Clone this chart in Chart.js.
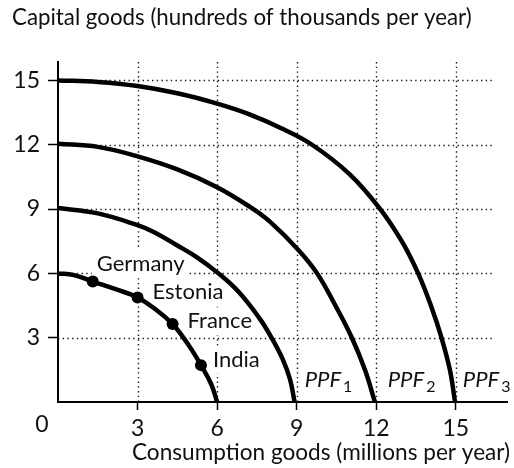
<!DOCTYPE html>
<html>
<head>
<meta charset="utf-8">
<script src="https://cdn.jsdelivr.net/npm/chart.js@4.4.1/dist/chart.umd.min.js"></script>
<style>
  html, body { margin: 0; padding: 0; background: #fff; }
  #wrap { width: 514px; height: 468px; }
</style>
</head>
<body>
<div id="wrap"><canvas id="chart" width="514" height="468"></canvas></div>
<script>
'use strict';

// ── data ────────────────────────────────────────────────────────────────────
const X_TICKS = [3, 6, 9, 12, 15];
const Y_TICKS = [3, 6, 9, 12, 15];
const X_MAX = 16.93;
const Y_MAX = 15.86;

const PPF_SMALL = [[0,6],[0.6,5.92],[1.31,5.62],[2.2,5.25],[3.0,4.88],[3.7,4.3],[4.32,3.64],[4.7,3.05],[5.05,2.42],[5.39,1.72],[5.77,0.85],[6,0]];
const PPF_1 = [[0,9.05],[1.5,8.8],[3,8.25],[3.63,7.92],[4.5,7.3],[5.2,6.78],[6.05,6.0],[6.8,5.15],[7.6,3.9],[8.05,3.0],[8.47,2.0],[8.75,1.05],[8.92,0]];
const PPF_2 = [[0,12.05],[1.5,11.9],[3,11.46],[4.5,10.85],[6,10.02],[7.24,9.1],[8.0,8.4],[9.08,7.07],[9.77,6.0],[10.46,4.5],[11.08,3.0],[11.58,1.48],[11.95,0]];
const PPF_3 = [[0,15],[1.5,14.93],[3,14.74],[4.5,14.4],[6,13.92],[7.22,13.42],[8.44,12.76],[9.58,12.0],[11.0,10.62],[12.15,9.0],[12.96,7.5],[13.58,6.0],[14.08,4.43],[14.46,3.0],[14.78,1.48],[14.97,0]];

const COUNTRIES = ['Germany', 'Estonia', 'France', 'India'];
const COUNTRY_X = [1.31, 3.0, 4.32, 5.39];
const COUNTRY_Y = [5.62, 4.88, 3.64, 1.72];

const PPF_NAMES = ['1', '2', '3'];
const PPF_INTERCEPTS = [9, 12, 15];

const TITLE_Y = 'Capital goods (hundreds of thousands per year)';
const TITLE_X = 'Consumption goods (millions per year)';

// ── estilo ──────────────────────────────────────────────────────────────────
const FONT = 'Lato, "Open Sans", sans-serif';
const INK = '#111';
const LABEL_OFFSETS = [[4, -11], [15, 2], [15, 4.5], [12, 1.5]];   // px a partir do ponto
const PPF_OFFSETS = [8, 11.5, 7];

const toXY = arr => arr.map(([x, y]) => ({ x, y }));

function curve(arr) {
    return {
        data: toXY(arr),
        showLine: true,
        borderColor: '#000',
        borderWidth: 4.5,
        pointRadius: 0,
        tension: 0.4,
        fill: false,
    };
}

// ── plugin: grade pontilhada, rótulos, títulos ───────────────────────────────
const decor = {
    id: 'decor',
    beforeDatasetsDraw(chart) {
        const { ctx, scales: { x, y } } = chart;
        ctx.save();
        ctx.strokeStyle = '#1a1a1a';
        ctx.lineWidth = 1.4;
        ctx.setLineDash([1.4, 3.3]);
        Y_TICKS.forEach(v => {
            const py = Math.round(y.getPixelForValue(v)) + 0.5;
            ctx.beginPath();
            ctx.moveTo(x.getPixelForValue(0), py);
            ctx.lineTo(x.getPixelForValue(16.45), py);
            ctx.stroke();
        });
        X_TICKS.forEach(v => {
            const px = Math.round(x.getPixelForValue(v)) + 0.5;
            ctx.beginPath();
            ctx.moveTo(px, y.getPixelForValue(Y_MAX));
            ctx.lineTo(px, y.getPixelForValue(0));
            ctx.stroke();
        });
        ctx.setLineDash([]);

        // rótulos dos países, com fundo branco
        ctx.font = `22px ${FONT}`;
        ctx.textBaseline = 'alphabetic';
        ctx.textAlign = 'left';
        COUNTRIES.forEach((name, i) => {
            const px = x.getPixelForValue(COUNTRY_X[i]) + LABEL_OFFSETS[i][0];
            const py = y.getPixelForValue(COUNTRY_Y[i]) + LABEL_OFFSETS[i][1];
            const w = ctx.measureText(name).width;
            ctx.fillStyle = '#fff';
            ctx.fillRect(px - 5, py - 21, w + 8, 28);
        });
        ctx.fillStyle = INK;
        COUNTRIES.forEach((name, i) => {
            const px = x.getPixelForValue(COUNTRY_X[i]) + LABEL_OFFSETS[i][0];
            const py = y.getPixelForValue(COUNTRY_Y[i]) + LABEL_OFFSETS[i][1];
            ctx.fillText(name, px, py);
        });

        // PPF1, PPF2, PPF3
        PPF_NAMES.forEach((sub, i) => {
            const px = x.getPixelForValue(PPF_INTERCEPTS[i]) + PPF_OFFSETS[i];
            const py = y.getPixelForValue(0) - 15;
            ctx.font = `italic 22px ${FONT}`;
            ctx.fillText('PPF', px, py);
            const w = ctx.measureText('PPF').width;
            ctx.font = `16px ${FONT}`;
            ctx.fillText(sub, px + w + 2, py + 5);
        });
        ctx.restore();
    },
    afterDraw(chart) {
        const { ctx, scales: { x, y } } = chart;
        ctx.save();
        ctx.fillStyle = INK;
        ctx.font = `22.3px ${FONT}`;
        ctx.textBaseline = 'alphabetic';
        ctx.textAlign = 'left';
        ctx.fillText(TITLE_Y, 12, 25);
        ctx.font = `22.6px ${FONT}`;
        ctx.fillText(TITLE_X, 132, 460);
        ctx.font = `23px ${FONT}`;
        ctx.textAlign = 'center';
        ctx.textBaseline = 'middle';
        ctx.fillText('0', x.getPixelForValue(0) - 16, y.getPixelForValue(0) + 23);
        ctx.restore();
    },
};

// ── chart ───────────────────────────────────────────────────────────────────
new Chart(document.getElementById('chart'), {
    type: 'scatter',
    data: {
        datasets: [
            curve(PPF_SMALL),
            curve(PPF_1),
            curve(PPF_2),
            curve(PPF_3),
            {
                data: COUNTRY_X.map((v, i) => ({ x: v, y: COUNTRY_Y[i] })),
                showLine: false,
                pointRadius: 6,
                pointBackgroundColor: '#000',
                pointBorderColor: '#000',
                pointBorderWidth: 0,
            },
        ],
    },
    options: {
        responsive: false,
        animation: false,
        devicePixelRatio: 1,
        layout: { padding: { top: 62, right: 7, left: 0, bottom: 0 } },
        plugins: { legend: { display: false }, tooltip: { enabled: false }, title: { display: false } },
        scales: {
            x: {
                type: 'linear',
                min: 0,
                max: X_MAX,
                afterBuildTicks: s => { s.ticks = X_TICKS.map(v => ({ value: v })); },
                afterFit: s => { s.height = 66; },
                grid: { drawOnChartArea: false, tickLength: 8, tickWidth: 1.5, tickColor: '#000' },
                border: { color: '#000', width: 2 },
                ticks: { color: INK, font: { family: FONT, size: 23 }, padding: 5, maxRotation: 0 },
            },
            y: {
                type: 'linear',
                min: 0,
                max: Y_MAX,
                afterBuildTicks: s => { s.ticks = Y_TICKS.map(v => ({ value: v })); },
                afterFit: s => { s.width = 58; },
                grid: { drawOnChartArea: false, tickLength: 10, tickWidth: 1.5, tickColor: '#000' },
                border: { color: '#000', width: 2 },
                ticks: { color: INK, font: { family: FONT, size: 23 }, padding: 8 },
            },
        },
    },
    plugins: [decor],
});
</script>
</body>
</html>
